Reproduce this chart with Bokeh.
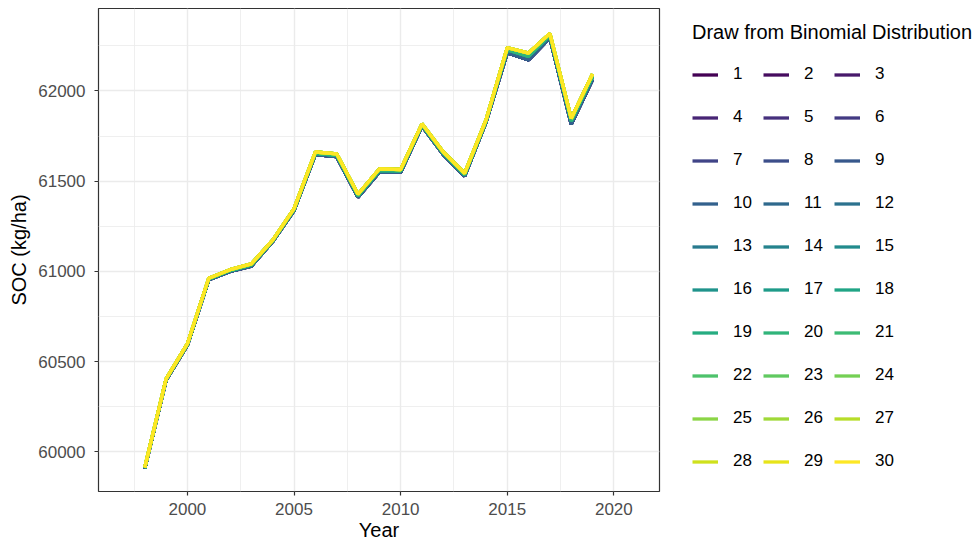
from bokeh.plotting import figure
from bokeh.models import FixedTicker, Legend, LegendItem, Range1d
from bokeh.palettes import viridis
from bokeh.embed import file_html
from bokeh.resources import INLINE

# ---- data ----
years = [1998, 1999, 2000, 2001, 2002, 2003, 2004, 2005, 2006, 2007, 2008,
         2009, 2010, 2011, 2012, 2013, 2014, 2015, 2016, 2017, 2018, 2019]

# draws 1-10 (dark end of the palette)
soc_draws_01_10 = [59908, 60398, 60592, 60954, 61000, 61030, 61166, 61338, 61648, 61636, 61412,
                   61550, 61550, 61806, 61648, 61528, 61826, 62212, 62172, 62294, 61816, 62064]
# draws 11-20 (middle of the palette)
soc_draws_11_20 = [59911, 60402, 60596, 60958, 61005, 61036, 61170, 61343, 61655, 61644, 61420,
                   61560, 61558, 61812, 61655, 61536, 61832, 62228, 62192, 62308, 61834, 62080]
# draws 21-30 (light end of the palette)
soc_draws_21_30 = [59914, 60405, 60600, 60962, 61010, 61042, 61174, 61348, 61662, 61652, 61428,
                   61568, 61565, 61818, 61662, 61544, 61838, 62240, 62210, 62318, 61848, 62094]

draw_labels = [str(i) for i in range(1, 31)]
draw_group = [soc_draws_01_10] * 10 + [soc_draws_11_20] * 10 + [soc_draws_21_30] * 10

x_major = [2000, 2005, 2010, 2015, 2020]
x_minor = [1997.5, 2002.5, 2007.5, 2012.5, 2017.5]
y_major = [60000, 60500, 61000, 61500, 62000]
y_minor = [60250, 60750, 61250, 61750, 62250]

colors = viridis(30)
FONT = "Liberation Sans"

p = figure(frame_width=561, frame_height=483,
           x_range=Range1d(1995.83, 2022.14), y_range=Range1d(59781, 62457),
           output_backend="svg", toolbar_location=None,
           min_border_left=98, min_border_top=8, min_border_bottom=0, min_border_right=0,
           background_fill_color="white", border_fill_color="white")

items = []
for lab, vals, col in zip(draw_labels, draw_group, colors):
    r = p.line(years, vals, line_color=col, line_width=3.3)
    items.append(LegendItem(label=lab, renderers=[r]))

# legend fills columns first; reorder so rows read 1 2 3 / 4 5 6 / ...
legend_items = items[0::3] + items[1::3] + items[2::3]

# grid
p.xaxis.ticker = FixedTicker(ticks=x_major, minor_ticks=x_minor)
p.yaxis.ticker = FixedTicker(ticks=y_major, minor_ticks=y_minor)
for g in (p.xgrid, p.ygrid):
    g.grid_line_color = "#EBEBEB"
    g.grid_line_width = 1.4
    g.minor_grid_line_color = "#EBEBEB"
    g.minor_grid_line_width = 0.8

p.outline_line_color = "#333333"
p.outline_line_width = 1.2

for ax in (p.xaxis, p.yaxis):
    ax.axis_line_color = None
    ax.major_tick_line_color = "#333333"
    ax.major_tick_line_width = 1.2
    ax.major_tick_out = 4
    ax.major_tick_in = 0
    ax.minor_tick_line_color = None
    ax.major_label_text_font = FONT
    ax.major_label_text_font_size = "17px"
    ax.major_label_text_color = "#4D4D4D"
    ax.axis_label_text_font = FONT
    ax.axis_label_text_font_size = "20px"
    ax.axis_label_text_font_style = "normal"
    ax.axis_label_text_color = "black"

p.xaxis.axis_label = "Year"
p.yaxis.axis_label = "SOC (kg/ha)"
p.xaxis.major_label_standoff = 7
p.xaxis.axis_label_standoff = 1
p.yaxis.major_label_standoff = 9
p.yaxis.axis_label_standoff = 5

legend = Legend(items=legend_items, ncols=3, orientation="vertical",
                title="Draw from Binomial Distribution",
                title_text_font=FONT, title_text_font_size="20px", title_text_color="black",
                title_text_font_style="normal",
                title_standoff=13,
                label_text_font=FONT, label_text_font_size="17px", label_text_color="black",
                glyph_width=26, glyph_height=35, label_standoff=15, label_width=22,
                spacing=8, padding=0, margin=33,
                border_line_alpha=0, background_fill_alpha=0,
                location="center_left")
p.add_layout(legend, "right")

open("out.html", "w").write(file_html(p, INLINE))
